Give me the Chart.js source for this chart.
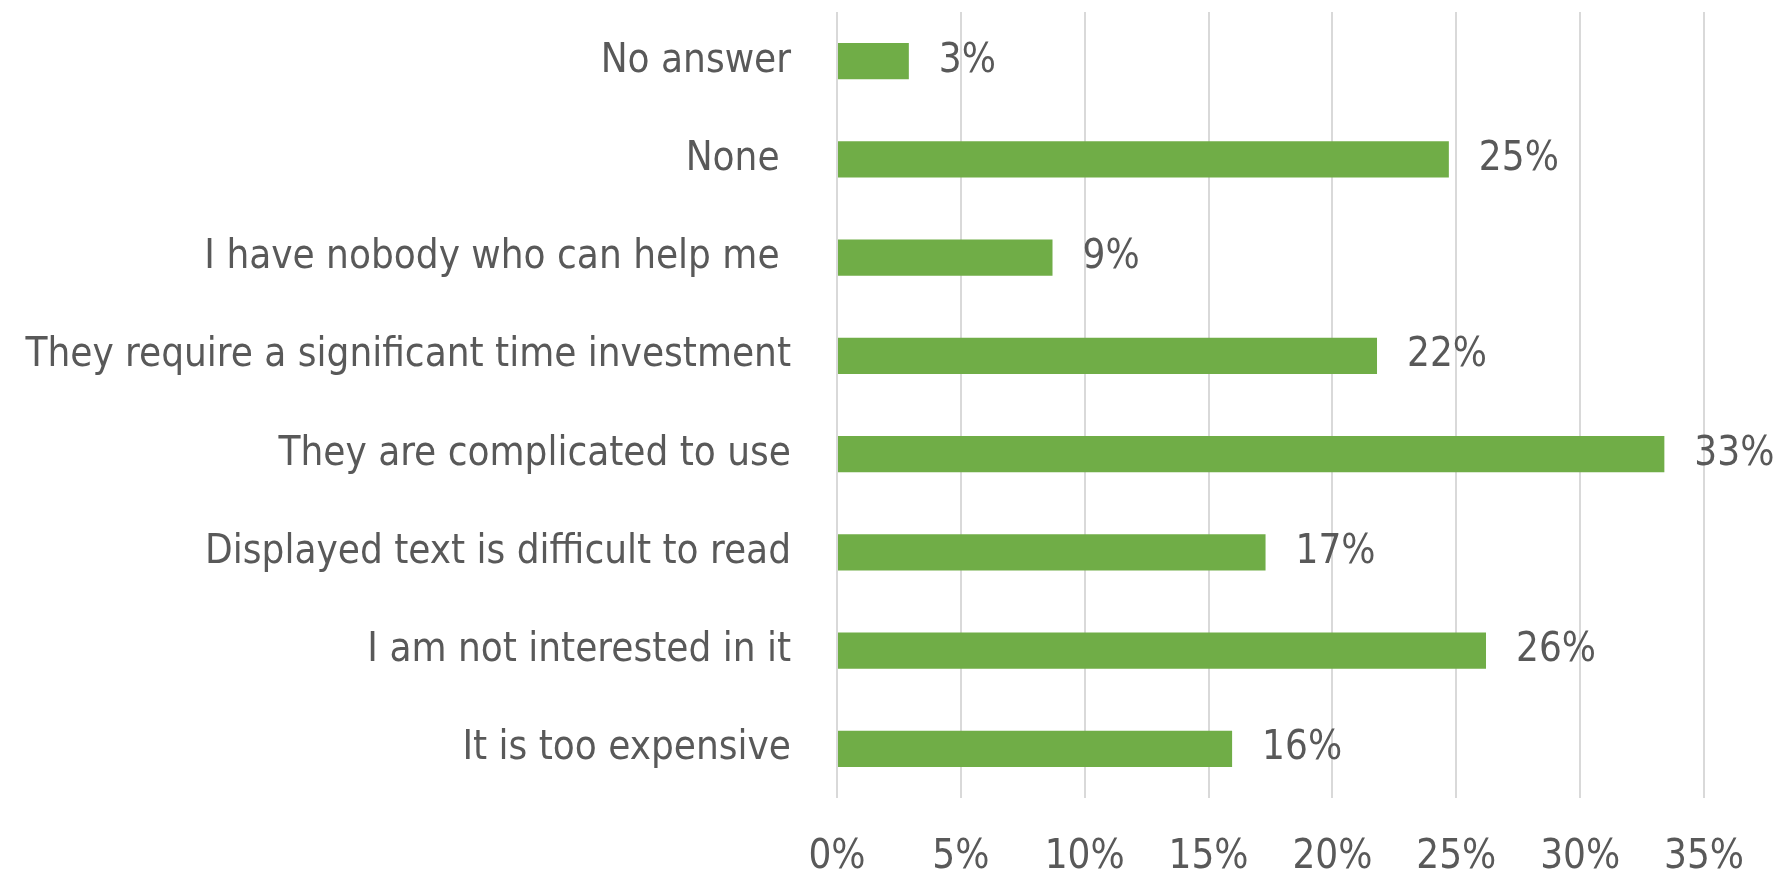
<!DOCTYPE html>
<html>
<head>
<meta charset="utf-8">
<script src="https://cdn.jsdelivr.net/npm/chart.js@4.4.1/dist/chart.umd.min.js"></script>
<style>
  html, body { margin: 0; padding: 0; background: #fff; }
  #wrap { width: 1779px; height: 876px; position: relative; }
</style>
</head>
<body>
<div id="wrap"><canvas id="myChart"></canvas></div>
<script>
// categorias de arriba hacia abajo
const categorias = [
  "No answer",
  "None ",
  "I have nobody who can help me ",
  "They require a significant time investment",
  "They are complicated to use",
  "Displayed text is difficult to read",
  "I am not interested in it",
  "It is too expensive",
];
// porcentajes
const valores = [2.9, 24.7, 8.7, 21.8, 33.4, 17.3, 26.2, 15.95];
const ticksX = [0, 5, 10, 15, 20, 25, 30, 35];

const fuente = "'Liberation Sans Narrow', 'DejaVu Sans Condensed', 'Liberation Sans', sans-serif";
const gris = "#595959";
const tamFuente = 40;

//plugin para poner el % al final de cada barra
const etiquetas = {
  id: "etiquetas",
  afterDatasetsDraw(chart) {
    const ctx = chart.ctx;
    const meta = chart.getDatasetMeta(0);
    ctx.save();
    ctx.font = tamFuente + "px " + fuente;
    ctx.fillStyle = gris;
    ctx.textAlign = "left";
    ctx.textBaseline = "middle";
    meta.data.forEach((bar, i) => {
      ctx.fillText(Math.round(valores[i]) + "%", bar.x + 30, bar.y);
    });
    ctx.restore();
  },
};

const data = {
  labels: categorias,
  datasets: [
    {
      data: valores,
      backgroundColor: "#70ad47",
      categoryPercentage: 1,
      barPercentage: 0.37,
    },
  ],
};

const config = {
  type: "bar",
  data: data,
  options: {
    indexAxis: "y",
    responsive: true,
    maintainAspectRatio: false,
    animation: false,
    layout: { padding: { top: 12, right: 75, left: 0, bottom: 0 } },
    plugins: {
      legend: { display: false },
      tooltip: { enabled: false },
    },
    scales: {
      x: {
        min: 0,
        max: 35,
        afterBuildTicks: (scale) => {
          scale.ticks = ticksX.map((v) => ({ value: v }));
        },
        afterFit: (scale) => {
          scale.height = 78;
          scale.paddingLeft = 0;
          scale.paddingRight = 0;
        },
        ticks: {
          callback: (v) => v + "%",
          color: gris,
          font: { family: fuente, size: tamFuente },
          padding: 36,
          maxRotation: 0,
        },
        grid: { color: "#d9d9d9", lineWidth: 2, drawTicks: false },
        border: { display: false },
      },
      y: {
        afterFit: (scale) => {
          scale.width = 837;
          scale.paddingTop = 0;
          scale.paddingBottom = 0;
        },
        ticks: {
          color: gris,
          font: { family: fuente, size: tamFuente },
          padding: 46,
        },
        grid: { display: false, drawTicks: false },
        border: { display: false },
      },
    },
  },
  plugins: [etiquetas],
};

const myChartElement = document.getElementById("myChart");
var myChart = new Chart(myChartElement, config);
</script>
</body>
</html>
